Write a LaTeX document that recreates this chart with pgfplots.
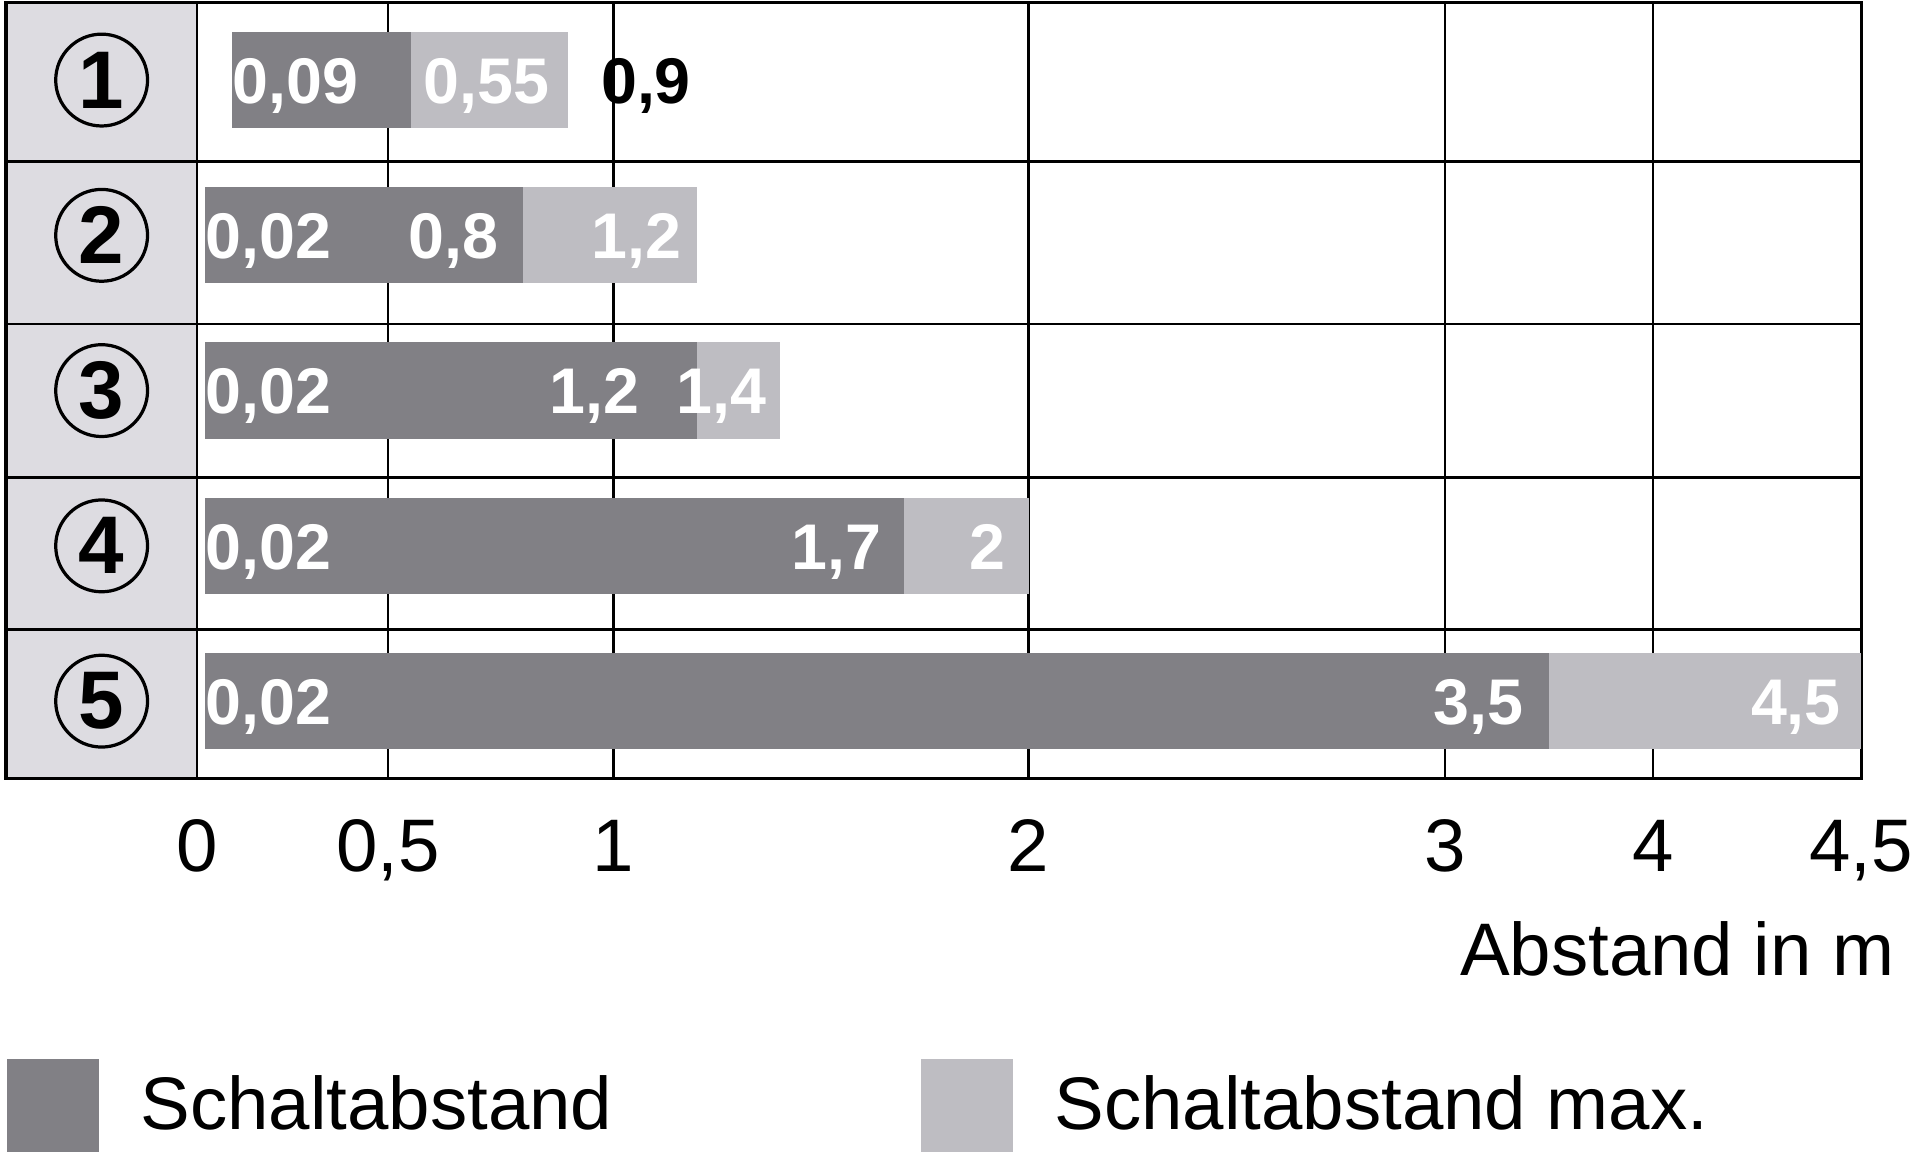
\documentclass[border=0pt]{standalone}
\usepackage{pgfplots}
\pgfplotsset{compat=1.18}
\usepackage{fontspec}
\setmainfont{Liberation Sans}
\definecolor{dark}{HTML}{818085}
\definecolor{light}{HTML}{BEBDC2}
\definecolor{colgray}{HTML}{DDDCE1}
\tikzset{
  lab/.style={text=white, font=\bfseries\fontsize{15}{15}\selectfont, inner sep=0pt, yshift=-5.4pt},
  num/.style={circle, draw=black, line width=0.75pt, minimum size=7.5mm, inner sep=0pt, font=\bfseries\fontsize{19}{19}\selectfont}
}
\begin{document}
\begin{tikzpicture}
\begin{axis}[
  set layers,
  at={(0.05cm,3.08cm)}, anchor=south west,
  scale only axis, width=15.15cm, height=6.34cm,
  x coord trafo/.code={\pgfmathparse{#1<0.5 ? 312*#1 : (#1<1 ? 156+368*(#1-0.5) : (#1<2 ? 340+339*(#1-1) : (#1<3 ? 679+340*(#1-2) : (#1<4 ? 1019+170*(#1-3) : 1189+340*(#1-4)))))}},
  xmin=-0.5, xmax=4.5, ymin=0.5, ymax=5.5, y dir=reverse,
  xtick={0,0.5,1,2,3,4,4.5},
  xticklabels={0,{0,5},1,2,3,4,{4,5}},
  ytick={1.525,2.57,3.56,4.54},
  yticklabels={},
  major tick length=0pt,
  xmajorgrids, ymajorgrids,
  grid style={black, line width=0.6pt},
  axis line style={black, line width=0.8pt},
  xticklabel style={anchor=base, yshift=-7.6mm, font=\fontsize{17.3}{20}\selectfont},
  xlabel={Abstand in m},
  xlabel style={at={(axis description cs:1,0)}, anchor=base east, xshift=2.8mm, yshift=-16.1mm, font=\fontsize{17.3}{20}\selectfont, inner sep=0pt},
  legend columns=2,
  legend style={at={(axis description cs:0,0)}, anchor=north west, yshift=-22.8mm, draw=none, fill=none, inner sep=0pt,
    font=\fontsize{17.3}{20}\selectfont,
    /tikz/every odd column/.append style={column sep=2.7mm},
    /tikz/every even column/.append style={column sep=24.5mm}},
  legend image code/.code={\path[#1] (0cm,-0.38cm) rectangle (0.75cm,0.38cm);},
]
% left column
\addplot[fill=colgray, draw=none, forget plot, on layer=axis background] coordinates {(-0.5,0.5) (0,0.5) (0,5.5) (-0.5,5.5)} -- cycle;
% row 1
\addplot[fill=dark, draw=none] coordinates {(0.09,0.69) (0.55,0.69) (0.55,1.31) (0.09,1.31)} -- cycle;
\addlegendentry{Schaltabstand}
\addplot[fill=light, draw=none] coordinates {(0.55,0.69) (0.9,0.69) (0.9,1.31) (0.55,1.31)} -- cycle;
\addlegendentry{Schaltabstand max.}
% row 2
\addplot[fill=dark, draw=none, forget plot] coordinates {(0.02,1.69) (0.8,1.69) (0.8,2.31) (0.02,2.31)} -- cycle;
\addplot[fill=light, draw=none, forget plot] coordinates {(0.8,1.69) (1.2,1.69) (1.2,2.31) (0.8,2.31)} -- cycle;
% row 3
\addplot[fill=dark, draw=none, forget plot] coordinates {(0.02,2.69) (1.2,2.69) (1.2,3.31) (0.02,3.31)} -- cycle;
\addplot[fill=light, draw=none, forget plot] coordinates {(1.2,2.69) (1.4,2.69) (1.4,3.31) (1.2,3.31)} -- cycle;
% row 4
\addplot[fill=dark, draw=none, forget plot] coordinates {(0.02,3.69) (1.7,3.69) (1.7,4.31) (0.02,4.31)} -- cycle;
\addplot[fill=light, draw=none, forget plot] coordinates {(1.7,3.69) (2,3.69) (2,4.31) (1.7,4.31)} -- cycle;
% row 5
\addplot[fill=dark, draw=none, forget plot] coordinates {(0.02,4.69) (3.5,4.69) (3.5,5.31) (0.02,5.31)} -- cycle;
\addplot[fill=light, draw=none, forget plot] coordinates {(3.5,4.69) (4.5,4.69) (4.5,5.31) (3.5,5.31)} -- cycle;
% labels
\node[lab, anchor=base west] at (axis cs:0.09,1) {0,09};
\node[lab, anchor=base west, xshift=1mm] at (axis cs:0.55,1) {0,55};
\node[lab, anchor=base west, xshift=2.6mm, text=black] at (axis cs:0.9,1) {0,9};
\node[lab, anchor=base west] at (axis cs:0.02,2) {0,02};
\node[lab, anchor=base east, xshift=-2mm] at (axis cs:0.8,2) {0,8};
\node[lab, anchor=base east, xshift=-1.2mm] at (axis cs:1.2,2) {1,2};
\node[lab, anchor=base west] at (axis cs:0.02,3) {0,02};
\node[lab, anchor=base east, xshift=-4.6mm] at (axis cs:1.2,3) {1,2};
\node[lab, anchor=base east, xshift=-1mm] at (axis cs:1.4,3) {1,4};
\node[lab, anchor=base west] at (axis cs:0.02,4) {0,02};
\node[lab, anchor=base east, xshift=-1.8mm] at (axis cs:1.7,4) {1,7};
\node[lab, anchor=base east, xshift=-1.8mm] at (axis cs:2,4) {2};
\node[lab, anchor=base west] at (axis cs:0.02,5) {0,02};
\node[lab, anchor=base east, xshift=-2mm] at (axis cs:3.5,5) {3,5};
\node[lab, anchor=base east, xshift=-1.6mm] at (axis cs:4.5,5) {4,5};
% row numbers
\node[num] at (axis cs:-0.25,1) {1};
\node[num] at (axis cs:-0.25,2) {2};
\node[num] at (axis cs:-0.25,3) {3};
\node[num] at (axis cs:-0.25,4) {4};
\node[num] at (axis cs:-0.25,5) {5};
\end{axis}
\pgfresetboundingbox
\path[use as bounding box] (0,0) rectangle (15.68cm,9.44cm);
\end{tikzpicture}
\end{document}
